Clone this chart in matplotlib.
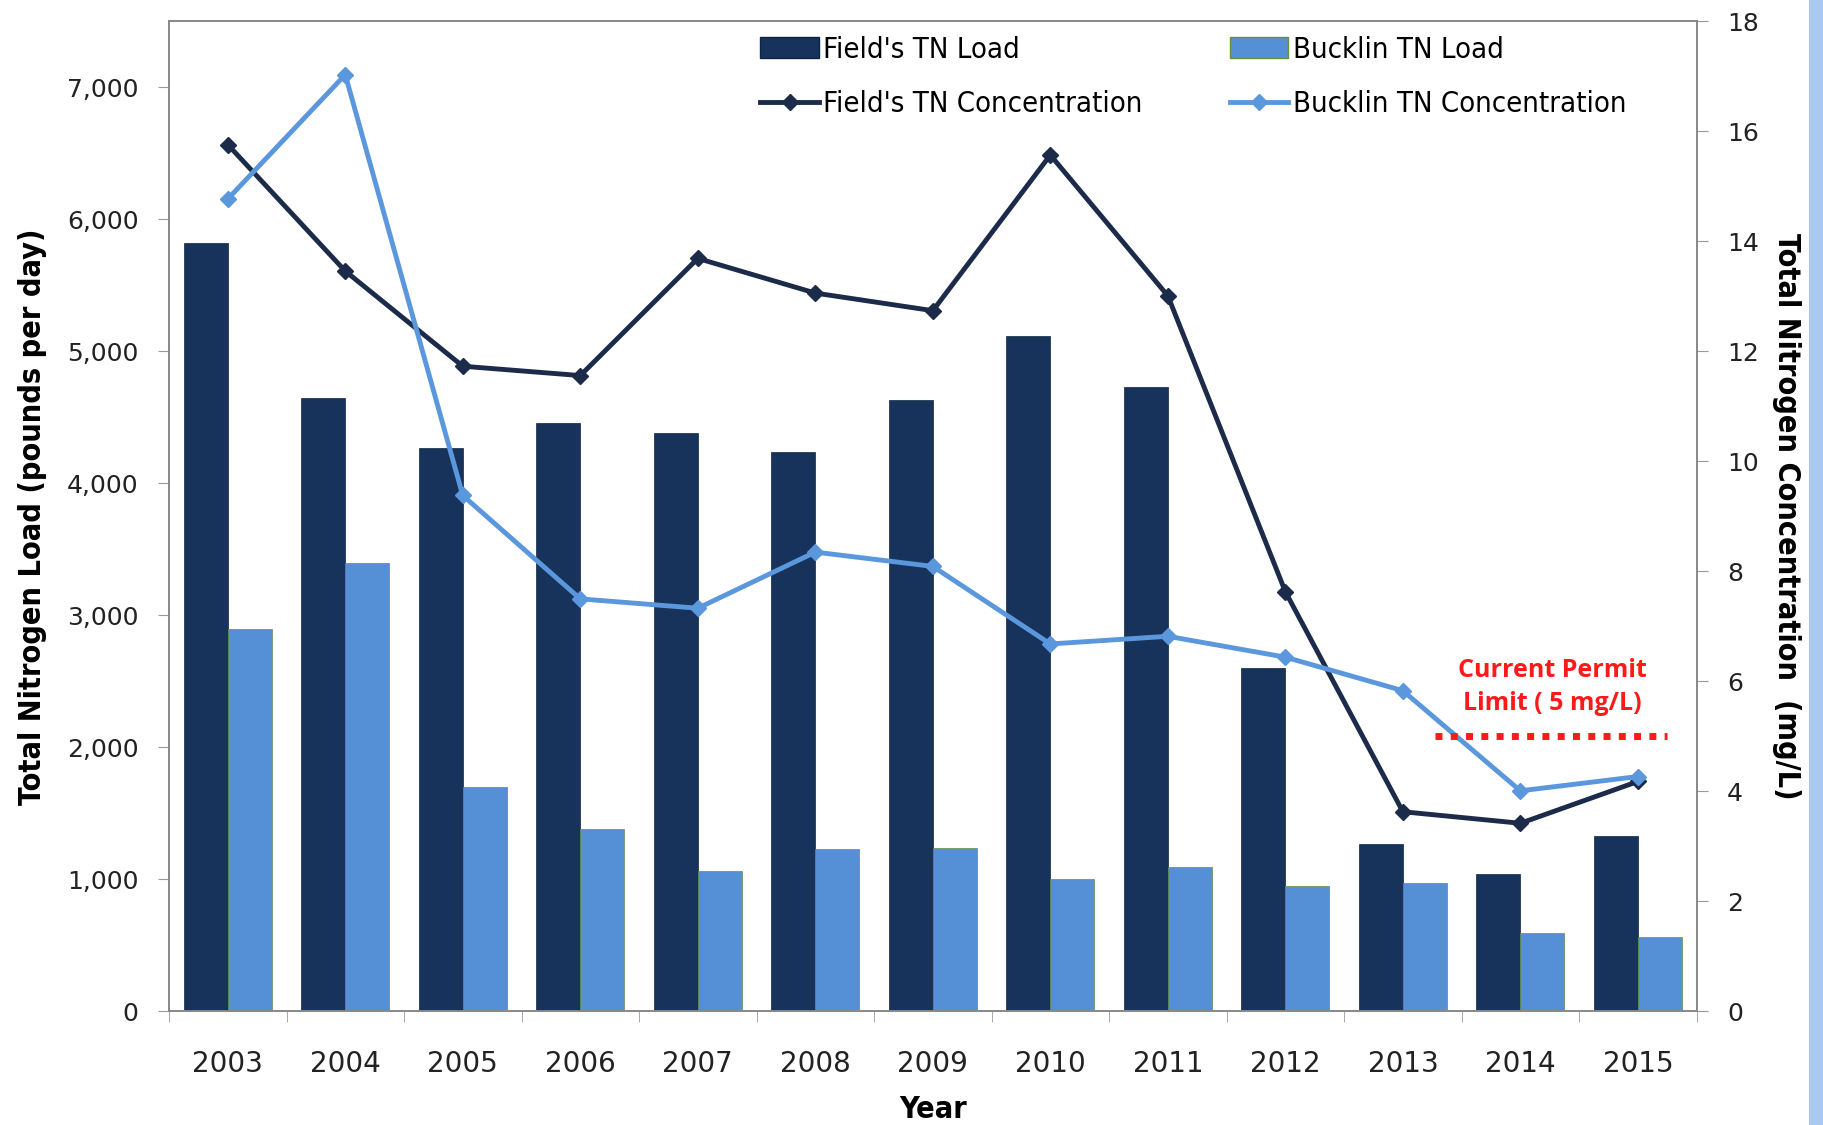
import matplotlib
matplotlib.use("Agg")
import matplotlib.pyplot as plt
import numpy as np
from matplotlib.patches import Patch, Rectangle
from matplotlib.lines import Line2D
from matplotlib.ticker import FuncFormatter, MultipleLocator, FixedLocator
from matplotlib import font_manager

# Data
years = ["2003", "2004", "2005", "2006", "2007", "2008", "2009",
         "2010", "2011", "2012", "2013", "2014", "2015"]
fields_load = [5820, 4650, 4270, 4460, 4380, 4240, 4630, 5120, 4730, 2600, 1270, 1040, 1330]
bucklin_load = [2900, 3400, 1700, 1380, 1060, 1230, 1240, 1000, 1090, 950, 975, 590, 560]
fields_conc = [15.76, 13.46, 11.73, 11.56, 13.69, 13.06, 12.74, 15.57, 13.01, 7.63, 3.63, 3.42, 4.18]
bucklin_conc = [14.77, 17.03, 9.38, 7.50, 7.33, 8.35, 8.09, 6.68, 6.82, 6.44, 5.83, 4.01, 4.27]
permit_limit = 5

dark = "#17335c"
light = "#5590d6"
dark_line = "#1c2b4a"
light_line = "#5b97dc"

# condensed font for labels and legend, like the narrow Office font in the original
names = {f.name for f in font_manager.fontManager.ttflist}
narrow_fam = "Liberation Sans Narrow" if "Liberation Sans Narrow" in names else "DejaVu Sans"
narrow = font_manager.FontProperties(family=narrow_fam, stretch="condensed", size=21)
narrow_bold = font_manager.FontProperties(family=narrow_fam, stretch="condensed",
                                          weight="bold", size=22)

fig = plt.figure(figsize=(18.23, 11.25), dpi=100)
ax = fig.add_axes([0.0927, 0.101, 0.838, 0.880])
x = np.arange(len(years))
w = 0.375

ax.bar(x - w / 2, fields_load, width=w, color=dark, edgecolor="#0f2440", linewidth=0.5)
ax.bar(x + w / 2, bucklin_load, width=w, color=light, edgecolor="#6a8f3a", linewidth=0.5)
ax.set_xlim(-0.5, len(years) - 0.5)
ax.set_ylim(0, 7500)
ax.yaxis.set_major_locator(FixedLocator(range(0, 7001, 1000)))
ax.yaxis.set_major_formatter(FuncFormatter(lambda v, p: f"{int(v):,}"))
ax.set_xticks(x)
ax.set_xticklabels(years)
ax.set_xticks(np.arange(-0.5, len(years), 1), minor=True)
ax.tick_params(axis="x", which="major", length=0, labelsize=20, pad=28, colors="#222222")
ax.tick_params(axis="x", which="minor", length=8, color="#999999")
ax.tick_params(axis="y", length=8, color="#999999", labelsize=18, pad=14, labelcolor="#222222")
for s in ax.spines.values():
    s.set_color("#888888")
    s.set_linewidth(1.2)
ax.set_ylabel("Total Nitrogen Load (pounds per day)", fontproperties=narrow_bold, labelpad=14)
ax.set_xlabel("Year", fontproperties=narrow_bold, labelpad=12)

ax2 = ax.twinx()
ax2.set_ylim(0, 18)
ax2.yaxis.set_major_locator(MultipleLocator(2))
ax2.plot(x, fields_conc, color=dark_line, linewidth=3.5, marker="D", markersize=8)
ax2.plot(x, bucklin_conc, color=light_line, linewidth=3.5, marker="D", markersize=8)
ax2.plot([10.27, 12.25], [permit_limit, permit_limit], color="#ff1a1a",
         linewidth=5, linestyle=(0, (1, 1.2)))
ax2.text(11.27, 5.9, "Current Permit\nLimit ( 5 mg/L)", color="#ff1a1a", fontsize=18,
         fontweight="bold", family=["Open Sans", "DejaVu Sans"], ha="center", va="center",
         linespacing=1.45)
ax2.tick_params(axis="y", length=8, color="#999999", labelsize=18, pad=14, labelcolor="#222222")
for s in ax2.spines.values():
    s.set_color("#888888")
    s.set_linewidth(1.2)
ax2.set_ylabel("Total Nitrogen Concentration  (mg/L)", fontproperties=narrow_bold,
               rotation=-90, labelpad=30)

handles = [
    Patch(facecolor=dark, edgecolor="#0f2440"),
    Line2D([], [], color=dark_line, linewidth=3.5, marker="D", markersize=8),
    Patch(facecolor=light, edgecolor="#6a8f3a"),
    Line2D([], [], color=light_line, linewidth=3.5, marker="D", markersize=8),
]
labels = ["Field's TN Load", "Field's TN Concentration",
          "Bucklin TN Load", "Bucklin TN Concentration"]
ax2.legend(handles, labels, ncol=2, loc="upper left", bbox_to_anchor=(0.37, 1.012),
           frameon=False, prop=narrow, handlelength=2.0,
           handletextpad=0.15, columnspacing=3.0, labelspacing=0.9)

# light blue strip at right edge
fig.patches.append(Rectangle((0.9925, 0), 0.0075, 1, transform=fig.transFigure,
                             facecolor="#a9caee", edgecolor="none"))

fig.savefig("out.png", dpi=100)
